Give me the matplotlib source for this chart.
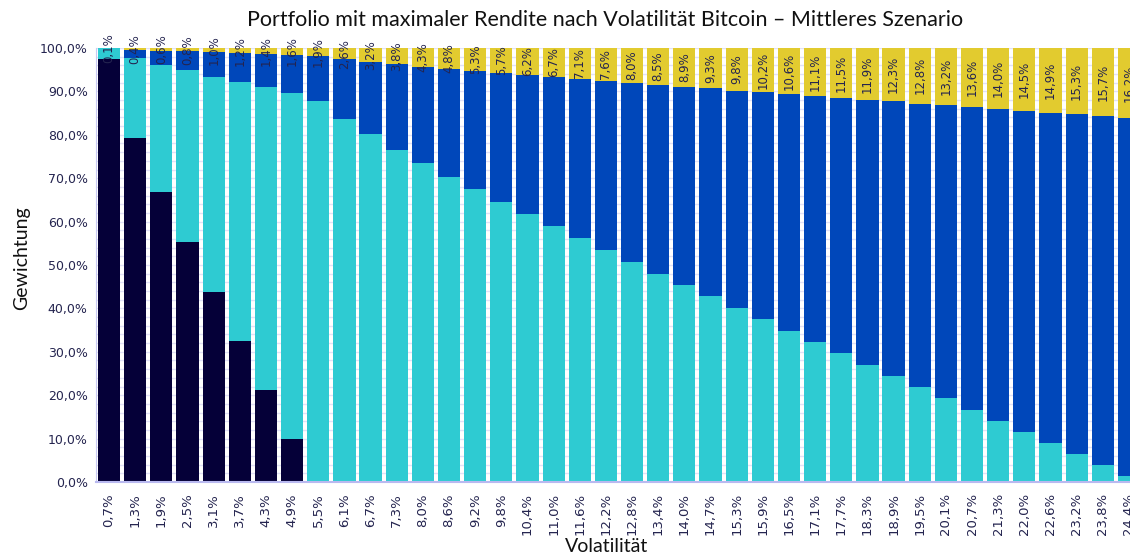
import numpy as np
import matplotlib
matplotlib.use("Agg")
import matplotlib.pyplot as plt

# Volatility steps (x axis)
vol_labels = ["0,7%", "1,3%", "1,9%", "2,5%", "3,1%", "3,7%", "4,3%", "4,9%", "5,5%", "6,1%",
              "6,7%", "7,3%", "8,0%", "8,6%", "9,2%", "9,8%", "10,4%", "11,0%", "11,6%", "12,2%",
              "12,8%", "13,4%", "14,0%", "14,7%", "15,3%", "15,9%", "16,5%", "17,1%", "17,7%", "18,3%",
              "18,9%", "19,5%", "20,1%", "20,7%", "21,3%", "22,0%", "22,6%", "23,2%", "23,8%", "24,4%"]

# weights in percent, bottom to top
navy = [97.5, 79.2, 66.9, 55.2, 43.7, 32.5, 21.1, 9.9] + [0.0] * 32
turquoise = [2.4, 18.4, 29.2, 39.7, 49.7, 59.7, 69.8, 79.8, 87.9, 83.6,
             80.1, 76.6, 73.4, 70.3, 67.5, 64.6, 61.8, 58.9, 56.2, 53.5,
             50.6, 48.0, 45.5, 42.8, 40.1, 37.5, 34.9, 32.2, 29.7, 27.0,
             24.5, 21.8, 19.3, 16.6, 14.1, 11.6, 9.0, 6.4, 3.9, 1.4]
blue = [0.0, 2.0, 3.3, 4.3, 5.6, 6.6, 7.7, 8.7, 10.2, 13.8,
        16.7, 19.6, 22.3, 24.9, 27.2, 29.7, 32.0, 34.4, 36.7, 38.9,
        41.4, 43.5, 45.6, 47.9, 50.1, 52.3, 54.5, 56.7, 58.8, 61.1,
        63.2, 65.4, 67.5, 69.8, 71.9, 73.9, 76.1, 78.3, 80.4, 82.4]
bitcoin = [0.1, 0.4, 0.6, 0.8, 1.0, 1.2, 1.4, 1.6, 1.9, 2.6,
           3.2, 3.8, 4.3, 4.8, 5.3, 5.7, 6.2, 6.7, 7.1, 7.6,
           8.0, 8.5, 8.9, 9.3, 9.8, 10.2, 10.6, 11.1, 11.5, 11.9,
           12.3, 12.8, 13.2, 13.6, 14.0, 14.5, 14.9, 15.3, 15.7, 16.2]

text_col = "#24244f"
grid_col = "#e1e1f7"

fig = plt.figure(figsize=(11.3, 5.56), dpi=100)
# axes runs a bit past the right edge, like the cropped original
ax = fig.add_axes([96 / 1130, 1 - 482 / 556, 1046 / 1130, 434 / 556])

x = np.arange(len(vol_labels))
w = 0.85
bottom = np.zeros(len(x))
for vals, col in [(navy, "#050038"), (turquoise, "#2ecbd2"), (blue, "#0047ba"), (bitcoin, "#e2cb2f")]:
    ax.bar(x, vals, w, bottom=bottom, color=col, linewidth=0, zorder=2)
    bottom += np.array(vals)

# bitcoin share labels, centred in the yellow segment
for xi, b in zip(x, bitcoin):
    ax.text(xi, 100 - b / 2, f"{b:.1f}%".replace(".", ","), rotation=90,
            ha="center", va="center", fontsize=8.5, color=text_col, zorder=3)

ax.set_xlim(-0.5, len(x) - 0.5)
ax.set_ylim(0, 100)
ax.set_yticks(np.arange(0, 101, 10))
ax.set_yticklabels([f"{v:.1f}%".replace(".", ",") for v in np.arange(0, 101, 10)])
ax.set_yticks(np.arange(0, 101, 2), minor=True)
ax.set_xticks(x)
ax.set_xticklabels(vol_labels, rotation=90)
ax.tick_params(axis="both", length=0, colors=text_col)
ax.tick_params(axis="y", labelsize=9, pad=6)
ax.tick_params(axis="x", labelsize=9.5, pad=8)
ax.tick_params(axis="y", which="minor", length=0)
ax.grid(axis="y", which="both", color=grid_col, linewidth=1)
ax.set_axisbelow(True)

for s in ["top", "right"]:
    ax.spines[s].set_visible(False)
ax.spines["left"].set_color("#c8c8f2")
ax.spines["bottom"].set_color("#b9b9f0")
ax.spines["bottom"].set_linewidth(1.5)

fig.text(605 / 1130, 1 - 20 / 556, "Portfolio mit maximaler Rendite nach Volatilität Bitcoin – Mittleres Szenario",
         ha="center", va="center", fontsize=15.5, family="Lato", color="#111111")
fig.text(22 / 1130, 1 - 258 / 556, "Gewichtung", rotation=90, ha="center", va="center",
         fontsize=14, family="Lato", color="#111111")
fig.text(607 / 1130, 1 - 546 / 556, "Volatilität", ha="center", va="center",
         fontsize=14, family="Lato", color="#111111")

fig.savefig("out.png", dpi=100)
